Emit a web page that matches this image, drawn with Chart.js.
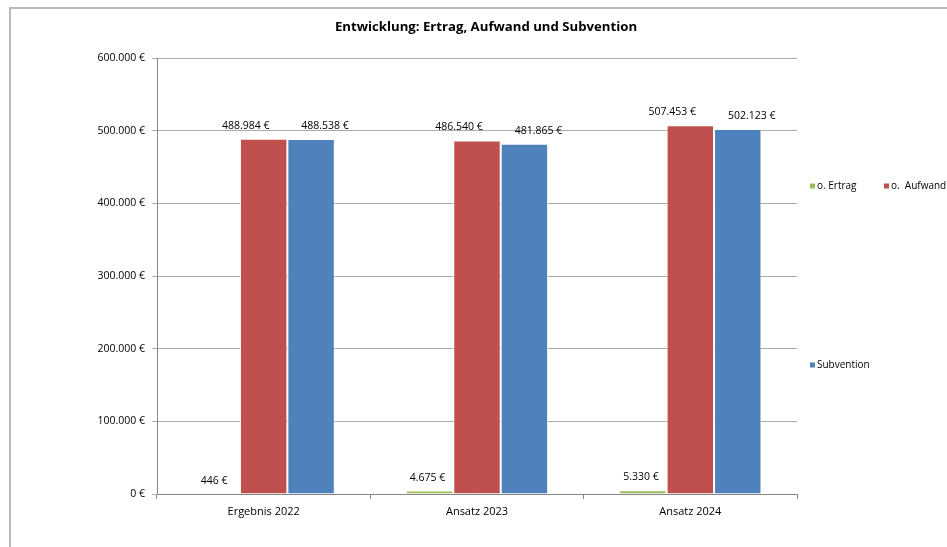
<!DOCTYPE html>
<html>
<head>
<meta charset="utf-8">
<script src="https://cdn.jsdelivr.net/npm/chart.js@4.4.0/dist/chart.umd.min.js"></script>
<style>
  html, body { margin: 0; padding: 0; background: #fff; }
  #wrap { position: relative; width: 947px; height: 547px; }
  #frame { position: absolute; left: 9px; top: 7px; right: 0; bottom: 0;
           border-top: 2px solid #b8b8b8; border-left: 2px solid #b8b8b8; }
  canvas { position: absolute; left: 0; top: 0; }
</style>
</head>
<body>
<div id="wrap">
  <div id="frame"></div>
  <canvas id="myChart" width="947" height="547"></canvas>
</div>
<script>
// setup
const chartTitle = 'Entwicklung: Ertrag, Aufwand und Subvention';
const categories = ['Ergebnis 2022', 'Ansatz 2023', 'Ansatz 2024'];
const seriesNames = ['o. Ertrag', 'o.  Aufwand', 'Subvention'];
const ertrag = [446, 4675, 5330];
const aufwand = [488984, 486540, 507453];
const subvention = [488538, 481865, 502123];
const yTicks = [0, 100000, 200000, 300000, 400000, 500000, 600000];

const colors = ['#9BBB59', '#C0504D', '#4F81BD'];
const FONT = '"Open Sans", "Segoe UI", sans-serif';

function euro(v) {
  return String(Math.round(v)).replace(/\B(?=(\d{3})+(?!\d))/g, '.') + ' €';
}

const data = {
  labels: categories,
  datasets: [ertrag, aufwand, subvention].map((vals, i) => ({
    label: seriesNames[i],
    data: vals,
    backgroundColor: colors[i],
    borderColor: 'rgba(255,255,255,0.9)',
    borderWidth: 1,
    categoryPercentage: 0.667,
    barPercentage: 1.0
  }))
};

// label x shift per series (style only)
const labelShift = [-2, -18, 14];

const extras = {
  id: 'extras',
  afterDatasetsDraw(chart) {
    const ctx = chart.ctx;
    ctx.save();
    ctx.font = '10.5px ' + FONT;
    ctx.fillStyle = '#000';
    ctx.textAlign = 'center';
    ctx.textBaseline = 'middle';
    chart.data.datasets.forEach((ds, di) => {
      chart.getDatasetMeta(di).data.forEach((bar, j) => {
        ctx.fillText(euro(ds.data[j]), bar.x + labelShift[di], bar.y - 13);
      });
    });
    ctx.restore();
  },
  afterDraw(chart) {
    const ctx = chart.ctx;
    ctx.save();
    // title
    ctx.font = 'bold 13.2px ' + FONT;
    ctx.fillStyle = '#000';
    ctx.textAlign = 'center';
    ctx.textBaseline = 'middle';
    ctx.fillText(chartTitle, 486, 27);
    // legend
    const spots = [[810, 186], [884, 186], [810, 365]];
    ctx.font = '10px ' + FONT;
    ctx.textAlign = 'left';
    chart.data.datasets.forEach((ds, i) => {
      const [x, y] = spots[i];
      ctx.fillStyle = ds.backgroundColor;
      ctx.fillRect(x, y - 2.5, 5, 5);
      ctx.fillStyle = '#000';
      ctx.fillText(ds.label, x + 7, y);
    });
    ctx.restore();
  }
};

// config
const config = {
  type: 'bar',
  data,
  plugins: [extras],
  options: {
    responsive: false,
    animation: false,
    layout: { padding: { left: 0, top: 58, right: 150, bottom: 0 } },
    plugins: {
      legend: { display: false },
      title: { display: false },
      tooltip: { enabled: false }
    },
    scales: {
      x: {
        grid: { drawOnChartArea: false, drawTicks: true, tickLength: 5, color: '#868686', offset: true },
        border: { color: '#868686' },
        ticks: { color: '#000', font: { family: FONT, size: 11 }, padding: 6 },
        afterFit(scale) { scale.height = 53; }
      },
      y: {
        min: 0,
        max: 600000,
        afterBuildTicks(scale) { scale.ticks = yTicks.map(v => ({ value: v })); },
        grid: { color: '#ababab', tickLength: 5 },
        border: { color: '#868686' },
        ticks: { color: '#000', font: { family: FONT, size: 10.5 }, padding: 7, callback: v => euro(v) },
        afterFit(scale) { scale.width = 157; }
      }
    }
  }
};

// render init block
const myChart = new Chart(document.getElementById('myChart'), config);
</script>
</body>
</html>
